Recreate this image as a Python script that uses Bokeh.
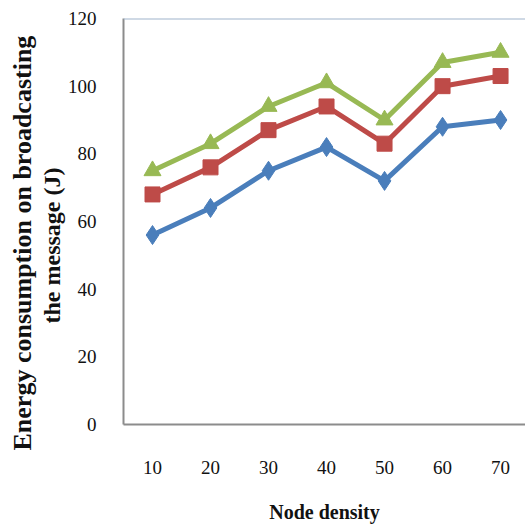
from bokeh.plotting import figure
from bokeh.models import FixedTicker, Span, Title, Range1d
from bokeh.embed import file_html
from bokeh.resources import INLINE

node_density = [10, 20, 30, 40, 50, 60, 70]
series_blue = [56, 64, 75, 82, 72, 88, 90]
series_red = [68, 76, 87, 94, 83, 100, 103]
series_green = [75, 83, 94, 101, 90, 107, 110]
y_ticks = [0, 20, 40, 60, 80, 100, 120]

FONT = "Liberation Serif"

p = figure(width=525, height=529, output_backend="svg", toolbar_location=None,
           x_range=Range1d(5, 74.3), y_range=Range1d(0, 120),
           min_border_left=123, min_border_right=0, min_border_top=18, min_border_bottom=105)
p.outline_line_color = None
p.grid.grid_line_color = None
p.background_fill_color = "white"
p.border_fill_color = "white"

p.add_layout(Span(location=120, dimension="width", line_color="#9FB3CC", line_width=2))

p.line(node_density, series_blue, line_color="#4A7EBB", line_width=5)
p.scatter(node_density, series_blue, marker="diamond", size=19, color="#4A7EBB")
p.line(node_density, series_red, line_color="#BE4B48", line_width=5)
p.scatter(node_density, series_red, marker="square", size=15, color="#BE4B48")
p.line(node_density, series_green, line_color="#98B954", line_width=5)
p.scatter(node_density, series_green, marker="triangle", size=17, color="#98B954")

for ax in (p.xaxis[0], p.yaxis[0]):
    ax.axis_line_color = "#8C8C8C"
    ax.axis_line_width = 2
    ax.major_tick_line_color = None
    ax.minor_tick_line_color = None
    ax.major_label_text_font = FONT
    ax.major_label_text_font_size = "19px"
    ax.major_label_text_color = "#111111"

p.xaxis.ticker = FixedTicker(ticks=node_density)
p.yaxis.ticker = FixedTicker(ticks=y_ticks)
p.xaxis.major_label_standoff = 30
p.yaxis.major_label_standoff = 21

p.xaxis.axis_label = "Node density"
p.xaxis.axis_label_text_font = FONT
p.xaxis.axis_label_text_font_style = "bold"
p.xaxis.axis_label_text_font_size = "20px"
p.xaxis.axis_label_text_color = "#111111"
p.xaxis.axis_label_standoff = 24

p.add_layout(Title(text="the message  (J)", align="left", offset=101, standoff=0,
                   text_font=FONT, text_font_style="bold", text_font_size="24px",
                   text_color="#111111"), "left")
p.add_layout(Title(text="Energy consumption on broadcasting", align="left", offset=-26, standoff=0,
                   text_font=FONT, text_font_style="bold", text_font_size="26px",
                   text_color="#111111"), "left")

open("out.html", "w").write(file_html(p, INLINE))
